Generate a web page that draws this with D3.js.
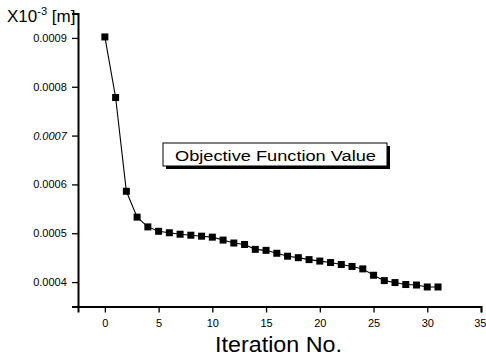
<!DOCTYPE html>
<html>
<head>
<meta charset="utf-8">
<script src="https://cdn.jsdelivr.net/npm/d3@7"></script>
<style>
  body { margin: 0; background: #fff; }
  svg { font-family: Arial, "Liberation Sans", sans-serif; }
</style>
</head>
<body>
<div id="chart"></div>
<script>
const width = 486;
const height = 358;

// Iteration numbers and objective function values
const iterations = d3.range(0, 32);
const objective = [
  0.000902, 0.000778, 0.000586, 0.000533, 0.000513, 0.000504, 0.000501, 0.000498,
  0.000496, 0.000494, 0.000492, 0.000486, 0.000480, 0.000477, 0.000467, 0.000465,
  0.000459, 0.000453, 0.000450, 0.000446, 0.000443, 0.000440, 0.000436, 0.000432,
  0.000427, 0.000414, 0.000403, 0.000399, 0.000395, 0.000394, 0.000390, 0.000390
];
const xTicks = [0, 5, 10, 15, 20, 25, 30, 35];
const yTicks = [0.0004, 0.0005, 0.0006, 0.0007, 0.0008, 0.0009];
const legendLabel = "Objective Function Value";

const x = d3.scaleLinear().domain([-2.5, 35]).range([78, 481]);
const y = d3.scaleLinear().domain([0.00035, 0.00095]).range([306.5, 13.5]);

const svg = d3.select("#chart")
  .append("svg")
  .attr("width", width)
  .attr("height", height);

// X axis
const xAxis = svg.append("g")
  .attr("transform", `translate(0,${y.range()[0]})`);
xAxis.call(d3.axisBottom(x).tickValues(d3.range(-2.5, 35.1, 2.5)).tickSize(3).tickFormat(""));
xAxis.call(d3.axisBottom(x).tickValues(xTicks).tickSize(6).tickFormat(d3.format("d")));
xAxis.selectAll(".domain").attr("stroke-width", 2);
xAxis.selectAll("line").attr("stroke-width", 1.3);
xAxis.selectAll("text").attr("font-size", 11).attr("dy", "1.05em")
  .attr("text-anchor", d => d === 35 ? "end" : "middle")
  .attr("dx", d => d === 35 ? 5 : 0);

// Y axis
const yAxis = svg.append("g")
  .attr("transform", `translate(${x.range()[0]},0)`);
yAxis.call(d3.axisLeft(y).tickValues(d3.range(0.00035, 0.000951, 0.00005)).tickSize(3).tickFormat(""));
yAxis.call(d3.axisLeft(y).tickValues(yTicks).tickSize(6).tickFormat(d3.format(".4f")));
yAxis.selectAll(".domain").attr("stroke-width", 2);
yAxis.selectAll("line").attr("stroke-width", 1.3);
yAxis.selectAll("text").attr("font-size", 11).attr("dx", "-0.2em")
  .attr("font-style", d => d === 0.0007 ? "italic" : null);

// Unit label
const unit = svg.append("text")
  .attr("x", 7)
  .attr("y", 22)
  .attr("font-size", 17)
  .attr("fill", "#000");
unit.append("tspan").text("X10");
unit.append("tspan").attr("font-size", 11).attr("dy", -7).text("-3");
unit.append("tspan").attr("dy", 7).text(" [m]");

// X axis title
svg.append("text")
  .attr("x", 215)
  .attr("y", 352)
  .attr("font-size", 21.5)
  .attr("textLength", 127)
  .attr("lengthAdjust", "spacingAndGlyphs")
  .text("Iteration No.");

// Series
const points = iterations.map((it, i) => [it, objective[i]]);
svg.append("path")
  .datum(points)
  .attr("fill", "none")
  .attr("stroke", "#000")
  .attr("stroke-width", 1.1)
  .attr("d", d3.line().x(d => x(d[0])).y(d => y(d[1])));

svg.selectAll("rect.pt")
  .data(points)
  .join("rect")
  .attr("class", "pt")
  .attr("x", d => x(d[0]) - 3.5)
  .attr("y", d => y(d[1]) - 3.5)
  .attr("width", 7)
  .attr("height", 7)
  .attr("fill", "#000");

// Legend box with drop shadow
const lg = svg.append("g");
lg.append("rect")
  .attr("x", 166).attr("y", 146)
  .attr("width", 224).attr("height", 23)
  .attr("fill", "#000");
lg.append("rect")
  .attr("x", 163).attr("y", 143)
  .attr("width", 224).attr("height", 23)
  .attr("fill", "#fff")
  .attr("stroke", "#000")
  .attr("stroke-width", 1);
lg.append("text")
  .attr("x", 175)
  .attr("y", 161)
  .attr("font-size", 15.5)
  .attr("textLength", 201)
  .attr("lengthAdjust", "spacingAndGlyphs")
  .text(legendLabel);
</script>
</body>
</html>
